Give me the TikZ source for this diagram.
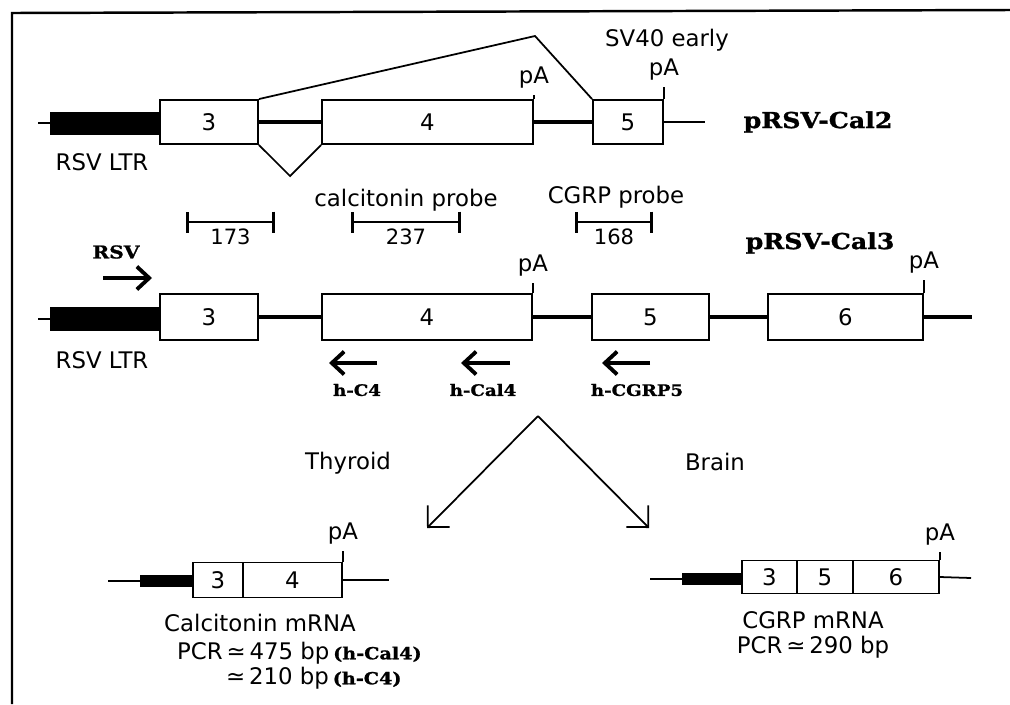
\documentclass[tikz,border=0pt]{standalone}
\usepackage{fontspec}
\setmainfont{DejaVu Sans}
\newfontfamily\nyfont[FakeStretch=1.15, BoldFeatures={FakeBold=1.2}]{DejaVu Serif}
\usetikzlibrary{arrows.meta}

\begin{document}
\begin{tikzpicture}[x=0.02cm, y=-0.02cm,
    font=\fontsize{13}{15}\selectfont,
    exon/.style={rectangle, draw, line width=1.1pt, minimum height=0.88cm, inner sep=0pt},
    ltr/.style={rectangle, fill=black, inner sep=0pt, minimum height=0.46cm},
    intron/.style={line width=1.8pt},
    stub/.style={line width=1pt},
    splice/.style={line width=1pt},
    frame/.style={line width=1.4pt},
    plasmid/.style={font=\nyfont\bfseries\fontsize{12.5}{14}\selectfont},
    serifb/.style={font=\nyfont\bfseries\fontsize{10}{12}\selectfont},
    primlbl/.style={font=\nyfont\bfseries\fontsize{9}{11}\selectfont},
    primer/.style={line width=2.2pt, -{Straight Barb[length=7pt,width=13pt]}},
    probe/.style={line width=1.6pt, {Bar[width=0.42cm]}-{Bar[width=0.42cm]}},
    tissue/.style={line width=1pt, -{Straight Barb[length=8.8pt,width=17.6pt]}}
  ]
  \useasboundingbox (0,0) rectangle (1010,704);
  \draw[frame] (12,704) -- (12,13) -- (1010,10);

  % pRSV-Cal2
  \coordinate (starta) at (38,123);
  \node[ltr, minimum width=2.2cm] (ltra) at (105,123) {};
  \node[exon, minimum width=1.96cm] (e3a) at (209,122) {3};
  \node[exon, minimum width=4.22cm] (e4a) at (427.5,122) {4};
  \node[exon, minimum width=1.4cm] (e5a) at (628,122) {5};
  \coordinate (taila) at (705,122);
  \coordinate (peak) at (535,36);
  \coordinate (dip) at (290,176);
  \draw[stub] (starta) -- (ltra.west);
  \draw[intron] (e3a.east) -- (e4a.west);
  \draw[intron] (e4a.east) -- (e5a.west);
  \draw[stub] (e5a.east) -- (taila);
  \draw[splice] (e3a.north east) -- (peak) -- (e5a.north west);
  \draw[splice] (e3a.south east) -- (dip) -- (e4a.south west);
  \draw[stub] (e4a.north east) -- ++(0,-4) node[above] (pa1) {pA};
  \draw[stub] (e5a.north east) -- ++(0,-12) node[above] (pa2) {pA};
  \node (sv40) at (667,40) {SV40 early};
  \node[plasmid] (cal2) at (818,122) {pRSV-Cal2};
  \node (ltrlbla) at (102,162) {RSV LTR};

  % probes
  \foreach \a/\b/\t [count=\i] in {186/275/173, 351/461/237, 575/653/168} {
    \coordinate (pr\i a) at (\a,222);
    \coordinate (pr\i b) at (\b,222);
    \draw[probe] (pr\i a) -- (pr\i b) node[midway, below, font=\fontsize{12}{14}\selectfont] (prl\i) {\t};
  }
  \node (calprobe) at (406,200) {calcitonin probe};
  \node (cgrpprobe) at (616,197) {CGRP probe};

  \node[serifb] (rsv) at (116,252) {RSV};
  \coordinate (rsvs) at (103,278);
  \coordinate (rsve) at (152,278);
  \draw[primer] (rsvs) -- (rsve);

  % pRSV-Cal3
  \coordinate (startb) at (38,319);
  \node[ltr, minimum width=2.2cm, minimum height=0.48cm] (ltrb) at (105,319) {};
  \node[exon, minimum width=1.96cm, minimum height=0.92cm] (e3b) at (209,317) {3};
  \node[exon, minimum width=4.2cm, minimum height=0.92cm] (e4b) at (427,317) {4};
  \node[exon, minimum width=2.34cm, minimum height=0.92cm] (e5b) at (650.5,317) {5};
  \node[exon, minimum width=3.1cm, minimum height=0.92cm] (e6b) at (845.5,317) {6};
  \coordinate (tailb) at (972,317);
  \draw[stub] (startb) -- (ltrb.west);
  \draw[intron] (e3b.east) -- (e4b.west);
  \draw[intron] (e4b.east) -- (e5b.west);
  \draw[intron] (e5b.east) -- (e6b.west);
  \draw[intron] (e6b.east) -- (tailb);
  \draw[stub] (e4b.north east) -- ++(0,-10) node[above] (pa3) {pA};
  \draw[stub] (e6b.north east) -- ++(0,-13) node[above] (pa4) {pA};
  \node[plasmid] (cal3) at (820,243) {pRSV-Cal3};
  \node (ltrlblb) at (102,360) {RSV LTR};

  % primers
  \foreach \s/\e/\lx/\t [count=\i] in {377/329/357/h-C4, 510/461/483/h-Cal4, 650/602/637/h-CGRP5} {
    \coordinate (ps\i) at (\s,363);
    \coordinate (pe\i) at (\e,363);
    \draw[primer] (ps\i) -- (pe\i);
    \node[primlbl] (pl\i) at (\lx,390) {\t};
  }

  % tissues
  \coordinate (fork) at (538,416);
  \coordinate (thy) at (427,528);
  \coordinate (brn) at (649,528);
  \draw[tissue] (fork) -- (thy);
  \draw[tissue] (fork) -- (brn);
  \node (thylbl) at (348,463) {Thyroid};
  \node (brnlbl) at (715,462) {Brain};

  % calcitonin mRNA
  \coordinate (startc) at (108,581);
  \node[ltr, minimum width=1.06cm, minimum height=0.24cm] (ltrc) at (166.5,581) {};
  \node[exon, minimum width=1cm, minimum height=0.7cm] (m3a) at (218,580) {3};
  \node[exon, minimum width=1.98cm, minimum height=0.7cm] (m4a) at (292.5,580) {4};
  \coordinate (tailc) at (389,580);
  \draw[stub] (startc) -- (ltrc.west);
  \draw[stub] (m4a.east) -- (tailc);
  \draw[stub] (m4a.north east) -- ++(0,-11) node[above] (pa5) {pA};
  \node (calmrna) at (260,623) {Calcitonin mRNA};
  \node[anchor=west] (pcra) at (171,653) {PCR\,≃\,475 bp\,{\nyfont\bfseries\fontsize{9.5}{11}\selectfont(h-Cal4)}};
  \node[anchor=west] (pcrb) at (220,678) {≃\,210 bp\,{\nyfont\bfseries\fontsize{9.5}{11}\selectfont(h-C4)}};

  % CGRP mRNA
  \coordinate (startd) at (650,579);
  \node[ltr, minimum width=1.2cm, minimum height=0.24cm] (ltrd) at (712,579) {};
  \node[exon, minimum width=1.1cm, minimum height=0.66cm] (m3b) at (769.5,577) {3};
  \node[exon, minimum width=1.12cm, minimum height=0.66cm] (m5b) at (825,577) {5};
  \node[exon, minimum width=1.72cm, minimum height=0.66cm] (m6b) at (896,577) {6};
  \coordinate (taild) at (971,578);
  \draw[stub] (startd) -- (ltrd.west);
  \draw[stub] (m6b.east) -- (taild);
  \draw[stub] (m6b.north east) -- ++(0,-8) node[above] (pa6) {pA};
  \node (cgrpmrna) at (813,620) {CGRP mRNA};
  \node (pcrc) at (813,647) {PCR\,≃\,290 bp};
\end{tikzpicture}
\end{document}
